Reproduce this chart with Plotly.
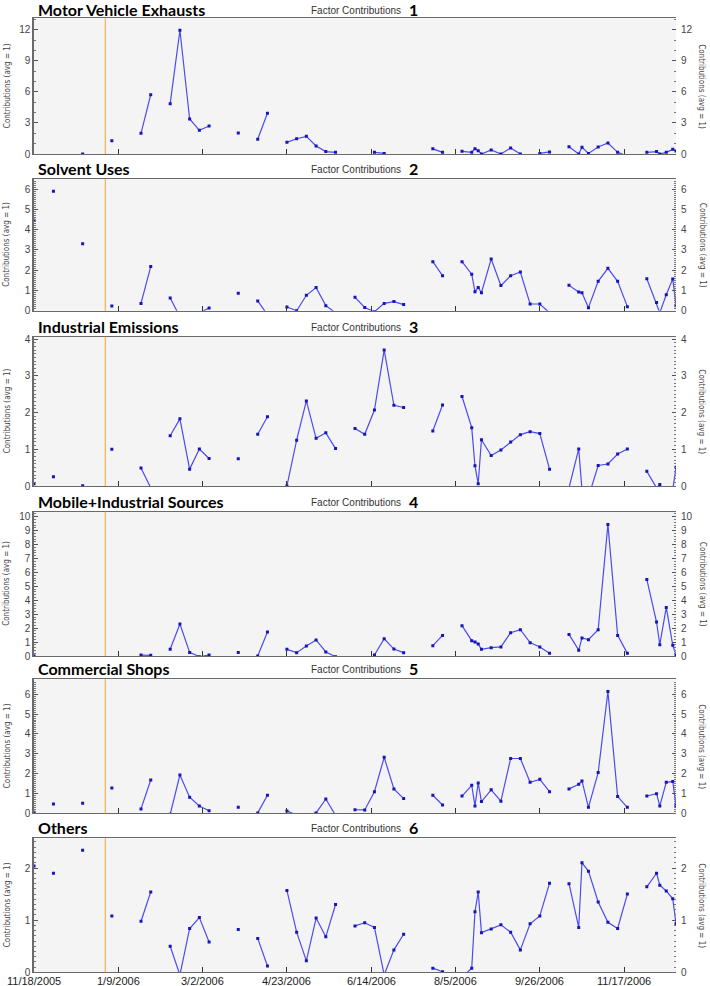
import plotly.graph_objects as go

N = None

# sampling dates (1-in-6 day schedule plus a few extra days)
sample_dates = [
    "2005-11-18", "2005-11-24", "2005-11-30", "2005-12-06", "2005-12-12", "2005-12-18",
    "2005-12-24", "2005-12-30", "2006-01-05", "2006-01-11", "2006-01-17", "2006-01-23",
    "2006-01-29", "2006-02-04", "2006-02-10", "2006-02-16", "2006-02-22", "2006-02-28",
    "2006-03-06", "2006-03-12", "2006-03-18", "2006-03-24", "2006-03-30", "2006-04-05",
    "2006-04-11", "2006-04-17", "2006-04-23", "2006-04-29", "2006-05-05", "2006-05-11",
    "2006-05-17", "2006-05-23", "2006-05-29", "2006-06-04", "2006-06-10", "2006-06-16",
    "2006-06-22", "2006-06-28", "2006-07-04", "2006-07-10", "2006-07-16", "2006-07-22",
    "2006-07-28", "2006-08-03", "2006-08-09", "2006-08-15", "2006-08-17", "2006-08-19",
    "2006-08-21", "2006-08-27", "2006-09-02", "2006-09-08", "2006-09-14", "2006-09-20",
    "2006-09-26", "2006-10-02", "2006-10-08", "2006-10-14", "2006-10-20", "2006-10-22",
    "2006-10-26", "2006-11-01", "2006-11-07", "2006-11-13", "2006-11-19", "2006-11-25",
    "2006-12-01", "2006-12-07", "2006-12-09", "2006-12-13", "2006-12-17", "2006-12-19",
]

motor_vehicle = [
    N, N, N, N, N, 0.0,
    N, N, 1.29, N, N, 2.0,
    5.74, N, 4.87, 11.97, 3.39, 2.29,
    2.71, N, N, 2.03, N, 1.42,
    3.94, N, 1.13, 1.48, 1.71, 0.77,
    0.23, 0.16, N, N, N, 0.16,
    0.06, N, N, N, N, 0.5,
    0.16, N, 0.26, 0.16, 0.52, 0.32,
    0.0, 0.39, 0.0, 0.58, 0.0, N,
    0.06, 0.2, N, 0.71, 0.0, 0.65,
    0.06, 0.68, 1.06, 0.16, -0.2, N,
    0.16, 0.23, 0.0, 0.16, 0.45, 0.3,
]

solvent = [
    4.47, N, 5.9, N, N, 3.3,
    N, N, 0.23, N, N, 0.36,
    2.18, N, 0.63, -0.3, N, -0.1,
    0.13, N, N, 0.86, N, 0.48,
    -0.2, N, 0.18, 0.0, 0.76, 1.14,
    0.25, -0.1, N, 0.66, 0.16, -0.05,
    0.36, 0.45, 0.3, N, N, 2.42,
    1.73, N, 2.42, 1.8, 0.94, 1.14,
    0.89, 2.55, 1.24, 1.73, 1.91, 0.33,
    0.33, -0.1, N, 1.25, 0.92, 0.89,
    0.15, 1.45, 2.09, 1.45, 0.2, N,
    1.58, 0.4, -0.1, 0.79, 1.57, 0.25,
]

industrial = [
    0.06, N, 0.25, N, N, 0.01,
    N, N, 1.0, N, N, 0.49,
    -0.05, N, 1.37, 1.83, 0.46, 1.01,
    0.75, N, N, 0.74, N, 1.41,
    1.89, N, 0.0, 1.25, 2.32, 1.3,
    1.45, 1.02, N, 1.57, 1.41, 2.07,
    3.71, 2.2, 2.14, N, N, 1.5,
    2.21, N, 2.44, 1.59, 0.55, 0.06,
    1.26, 0.83, 0.98, 1.2, 1.4, 1.48,
    1.43, 0.46, N, -0.05, 1.01, -0.1,
    -0.3, 0.56, 0.6, 0.87, 1.01, N,
    0.4, -0.05, 0.04, N, -0.1, 0.51,
]

mobile_industrial = [
    0.0, N, N, N, N, N,
    N, N, N, N, N, 0.07,
    0.05, N, 0.48, 2.3, 0.26, -0.05,
    0.07, N, N, 0.26, N, 0.0,
    1.72, N, 0.48, 0.24, 0.72, 1.15,
    0.29, -0.05, N, N, N, 0.07,
    1.24, 0.5, 0.24, N, N, 0.74,
    1.48, N, 2.18, 1.1, 1.0, 0.86,
    0.48, 0.6, 0.65, 1.67, 1.89, 0.96,
    0.65, 0.19, N, 1.55, 0.42, 1.29,
    1.17, 1.89, 9.45, 1.48, 0.19, N,
    5.5, 2.44, 0.81, 3.49, 0.77, 0.07,
]

commercial = [
    0.05, N, 0.47, N, N, 0.5,
    N, N, 1.28, N, N, 0.22,
    1.68, N, -0.05, 1.93, 0.81, 0.37,
    0.13, N, N, 0.3, N, 0.02,
    0.91, N, 0.12, -0.1, -0.1, 0.02,
    0.72, -0.1, N, 0.18, 0.17, 1.09,
    2.82, 1.23, 0.74, N, N, 0.91,
    0.42, N, 0.87, 1.41, 0.37, 1.53,
    0.59, 1.18, 0.61, 2.76, 2.76, 1.56,
    1.71, 1.09, N, 1.23, 1.46, 1.63,
    0.3, 2.05, 6.13, 0.84, 0.3, N,
    0.87, 0.99, 0.37, 1.56, 1.6, 0.39,
]

others = [
    2.04, N, 1.9, N, N, 2.34,
    N, N, 1.08, N, N, 0.98,
    1.54, N, 0.5, -0.05, 0.84, 1.05,
    0.58, N, N, 0.82, N, 0.65,
    0.12, N, 1.57, 0.77, 0.22, 1.04,
    0.68, 1.3, N, 0.89, 0.95, 0.86,
    -0.05, 0.43, 0.73, N, N, 0.08,
    0.01, N, -0.1, 0.08, 1.16, 1.54,
    0.76, 0.83, 0.91, 0.77, 0.43, 0.93,
    1.08, 1.71, N, 1.7, 0.86, 2.1,
    1.94, 1.35, 0.96, 0.84, 1.5, N,
    1.64, 1.9, 1.67, 1.56, 1.41, 0.93,
]

factor_names = ["Motor Vehicle Exhausts", "Solvent Uses", "Industrial Emissions",
                "Mobile+Industrial Sources", "Commercial Shops", "Others"]
factor_series = [motor_vehicle, solvent, industrial, mobile_industrial, commercial, others]
y_max = [13.13, 6.5, 4.07, 10.36, 6.75, 2.57]
y_major = [3, 1, 1, 1, 1, 1]
y_minor = [1, 0.1, 0.1, 0.2, 0.1, 0.1]

date_tickvals = ["2005-11-18", "2006-01-09", "2006-03-02", "2006-04-23",
                 "2006-06-14", "2006-08-05", "2006-09-26", "2006-11-17"]
date_ticktext = ["11/18/2005", "1/9/2006", "3/2/2006", "4/23/2006",
                 "6/14/2006", "8/5/2006", "9/26/2006", "11/17/2006"]
x_start, x_end = "2005-11-18", "2006-12-19"
marker_date = "2006-01-01"

# panel pixel boxes (top, bottom) in the 710x986 page
W, H = 710, 986
panels_px = [(18.3, 154), (179, 310.7), (336.7, 486), (511.7, 656), (679.3, 813.3), (838.3, 972.3)]
left_px, right_px = 34, 676

tick_font = dict(family="Liberation Sans, Arial, sans-serif", size=10, color="#444")
frame_col = "#6a6a6a"
title_font = dict(family="Lato, Open Sans, sans-serif", size=16, color="#000")

fig = go.Figure()
layout = dict(width=W, height=H, margin=dict(l=0, r=0, t=0, b=0, autoexpand=False),
              paper_bgcolor="white", plot_bgcolor="#f4f4f4", showlegend=False)
annotations = []
shapes = []

for i, (name, vals) in enumerate(zip(factor_names, factor_series)):
    k = i + 1
    kr = i + 7
    top, bot = panels_px[i]
    dom_y = [1 - bot / H, 1 - top / H]
    xa = "x" if k == 1 else "x%d" % k
    ya = "y" if k == 1 else "y%d" % k
    yr = "y%d" % kr

    fig.add_trace(go.Scatter(
        x=sample_dates, y=vals, xaxis=xa, yaxis=ya, mode="lines+markers",
        connectgaps=False, line=dict(color="#4b4bee", width=1.2),
        marker=dict(color="#1515b8", size=3, symbol="square"),
        hoverinfo="x+y"))
    fig.add_trace(go.Scatter(
        x=[sample_dates[0]], y=[0], xaxis=xa, yaxis=yr, mode="markers",
        marker=dict(opacity=0), hoverinfo="skip"))

    layout["xaxis" if k == 1 else "xaxis%d" % k] = dict(
        domain=[left_px / W, right_px / W], anchor=ya, type="date", automargin=False,
        range=[x_start, x_end], tickmode="array", tickvals=date_tickvals,
        showticklabels=False, ticks="inside", ticklen=5,
        tickcolor="#333", showgrid=False, zeroline=False, showline=True,
        linecolor=frame_col, linewidth=1, mirror=True)
    yaxis_common = dict(
        domain=dom_y, range=[0, y_max[i]], dtick=y_major[i], tick0=0, automargin=False,
        ticks="inside", ticklen=4, tickcolor="#555", showgrid=False, zeroline=False,
        tickfont=tick_font,
        minor=dict(dtick=y_minor[i], tick0=0, ticks="inside", ticklen=2, tickcolor="#777"))
    layout["yaxis" if k == 1 else "yaxis%d" % k] = dict(
        anchor=xa, side="left", showline=True, linecolor=frame_col, linewidth=1.5,
        **yaxis_common)
    layout["yaxis%d" % kr] = dict(
        anchor=xa, overlaying=ya, side="right", showline=False, ticklabelstandoff=4,
        **yaxis_common)

    # orange reference line
    shapes.append(dict(type="line", xref=xa, yref=ya + " domain", x0=marker_date,
                       x1=marker_date, y0=0, y1=1, line=dict(color="#f6b044", width=1.2)))

    ty = 1 - max(top - 10.5, 9.5) / H
    annotations.append(dict(text="<b>%s</b>" % name, x=36 / W, y=ty, xref="paper", yref="paper",
                            xanchor="left", yanchor="middle", showarrow=False, font=title_font))
    annotations.append(dict(text="Factor Contributions", x=403 / W, y=ty - 1 / H, xref="paper",
                            yref="paper", xanchor="right", yanchor="middle", showarrow=False,
                            font=dict(family="Liberation Sans, Arial, sans-serif", size=10, color="#333")))
    annotations.append(dict(text="<b>%d</b>" % k, x=407 / W, y=ty, xref="paper", yref="paper",
                            xanchor="left", yanchor="middle", showarrow=False, font=title_font))
    mid = 1 - (top + bot) / 2 / H
    ax_font = dict(family="Liberation Sans Narrow, DejaVu Sans Condensed, sans-serif", size=8, color="#444")
    annotations.append(dict(text="Contributions (avg = 1)", x=7 / W, y=mid, xref="paper",
                            yref="paper", xanchor="center", yanchor="middle", textangle=-90,
                            showarrow=False, font=ax_font))
    annotations.append(dict(text="Contributions (avg = 1)", x=702 / W, y=mid, xref="paper",
                            yref="paper", xanchor="center", yanchor="middle", textangle=90,
                            showarrow=False, font=ax_font))

# date labels under the bottom panel
for tv, tt in zip(date_tickvals, date_ticktext):
    annotations.append(dict(text=tt, x=tv, y=1 - 981 / H, xref="x6", yref="paper",
                            xanchor="center", yanchor="middle", showarrow=False,
                            font=dict(family="Liberation Sans, Arial, sans-serif", size=11, color="#222")))

layout["annotations"] = annotations
layout["shapes"] = shapes
fig.update_layout(**layout)

# drop the default 8px page margin so the figure fills the window
fig.write_html("out.html", config={"displayModeBar": False},
               post_script="document.body.style.margin='0';")
